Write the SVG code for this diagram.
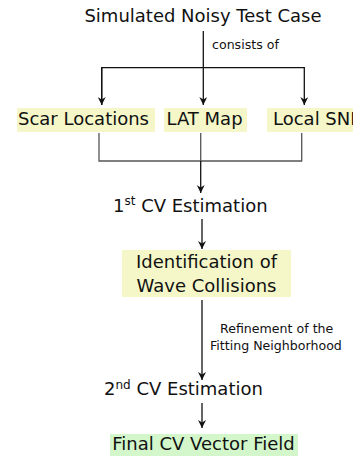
<svg xmlns="http://www.w3.org/2000/svg" width="353" height="456" viewBox="0 0 353 456">
<defs>
<style>
text{font-family:"DejaVu Sans","Liberation Sans",sans-serif;fill:#111;}
.m{font-size:18px;}
.s{font-size:12.6px;}
.y{fill:#f5f7c9;}
.g{fill:#d3f7ca;}
.c{stroke:#111;stroke-width:1.3;fill:none;}
.c2{stroke:#555;stroke-width:1.3;fill:none;}
</style>
<marker id="ah" viewBox="0 0 10 10" refX="10" refY="5" markerWidth="8" markerHeight="8" markerUnits="userSpaceOnUse" orient="auto">
<path d="M0,0 L10,5 L0,10 L3,5 Z" fill="#111"/>
</marker>
</defs>
<rect width="353" height="456" fill="#fff"/>
<g id="connectors">
<path class="c" d="M203.3,31 V105" marker-end="url(#ah)"/>
<path class="c" d="M101.7,105 V67.7 H304.3 V105" marker-end="url(#ah)"/>
<path class="c" d="M101.7,67.7 V105" marker-end="url(#ah)"/>
<path class="c2" d="M99,133 V161 H301.7 V133"/>
<path class="c2" d="M200.7,133 V161"/>
<path class="c" d="M200.7,161 V193" marker-end="url(#ah)"/>
<path class="c" d="M202,219 V249" marker-end="url(#ah)"/>
<path class="c" d="M202,300 V380" marker-end="url(#ah)"/>
<path class="c" d="M202,403 V428" marker-end="url(#ah)"/>
<text class="s" x="212" y="49">consists of</text>
<text class="s" x="220" y="333">Refinement of the</text>
<text class="s" x="210" y="350">Fitting Neighborhood</text>
</g>
<g id="title"><text class="m" x="203" y="22" text-anchor="middle">Simulated Noisy Test Case</text></g>
<g id="scar"><rect class="y" x="17" y="108" width="138" height="24"/><text class="m" x="18" y="125">Scar Locations</text></g>
<g id="lat"><rect class="y" x="164" y="108" width="83" height="24"/><text class="m" x="166.5" y="125">LAT Map</text></g>
<g id="snr"><rect class="y" x="267" y="108" width="95" height="24"/><text class="m" x="273" y="125">Local SNR</text></g>
<g id="cv1"><text class="m" x="113" y="211.7">1<tspan font-size="12" dy="-6.5">st</tspan><tspan dy="6.5"> CV Estimation</tspan></text></g>
<g id="collisions"><rect class="y" x="122" y="250" width="169" height="47"/><text class="m" x="206.5" y="268.3" text-anchor="middle">Identification of</text><text class="m" x="206.5" y="291.7" text-anchor="middle">Wave Collisions</text></g>
<g id="cv2"><text class="m" x="104" y="395">2<tspan font-size="12" dy="-6.5">nd</tspan><tspan dy="6.5"> CV Estimation</tspan></text></g>
<g id="final"><rect class="g" x="110" y="434" width="188" height="24"/><text class="m" x="203.5" y="450" text-anchor="middle">Final CV Vector Field</text></g>
</svg>
